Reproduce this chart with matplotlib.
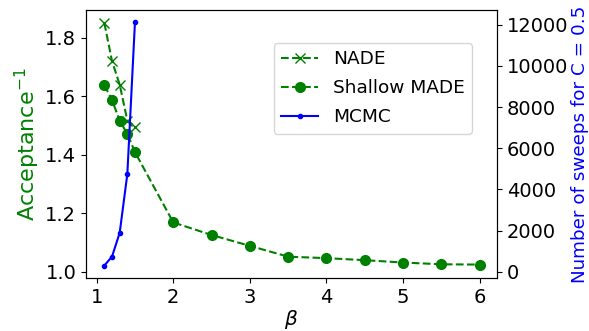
import matplotlib
matplotlib.use("Agg")
import matplotlib.pyplot as plt

# --- data ---
beta_nade = [1.1, 1.2, 1.3, 1.4, 1.5]
acc_nade = [1.85, 1.72, 1.64, 1.517, 1.496]

beta_made = [1.1, 1.2, 1.3, 1.4, 1.5, 2.0, 2.5, 3.0, 3.5, 4.0, 4.5, 5.0, 5.5, 6.0]
acc_made = [1.638, 1.587, 1.517, 1.471, 1.409, 1.169, 1.126, 1.089,
            1.052, 1.047, 1.040, 1.032, 1.026, 1.025]

beta_mcmc = [1.1, 1.2, 1.3, 1.4, 1.5]
sweeps_mcmc = [306, 743, 1895, 4747, 12150]

fig, ax1 = plt.subplots(figsize=(5.89, 3.31), dpi=100)
fig.subplots_adjust(left=0.146, right=0.844, top=0.970, bottom=0.160)

l1, = ax1.plot(beta_nade, acc_nade, 'x--', color='green', ms=7, lw=1.5, label='NADE')
l2, = ax1.plot(beta_made, acc_made, 'o--', color='green', ms=7, lw=1.5, label='Shallow MADE')
ax1.set_ylim(0.979, 1.895)
ax1.set_xlim(0.86, 6.23)
ax1.set_xticks([1, 2, 3, 4, 5, 6])
ax1.set_yticks([1.0, 1.2, 1.4, 1.6, 1.8])
ax1.set_xlabel(r'$\beta$', fontsize=14.5)
ax1.xaxis.set_label_coords(0.5, -0.11)
ax1.set_ylabel(r'Acceptance$^{-1}$', fontsize=16, color='green')
ax1.yaxis.set_label_coords(-0.107, 0.5)
ax1.tick_params(labelsize=14)

ax2 = ax1.twinx()
l3, = ax2.plot(beta_mcmc, sweeps_mcmc, '.-', color='blue', ms=6, lw=1.5, label='MCMC')
ax2.set_ylim(-300, 12720)
ax2.set_yticks([0, 2000, 4000, 6000, 8000, 10000, 12000])
ax2.set_ylabel('Number of sweeps for C = 0.5', fontsize=13.2, color='blue')
ax2.yaxis.set_label_coords(1.18, 0.5)
ax2.tick_params(labelsize=14)

ax2.legend(handles=[l1, l2, l3], loc='upper right', bbox_to_anchor=(0.939, 0.877),
           borderaxespad=0, fontsize=13.3, labelspacing=0.6)

fig.savefig('out.png', dpi=100)
